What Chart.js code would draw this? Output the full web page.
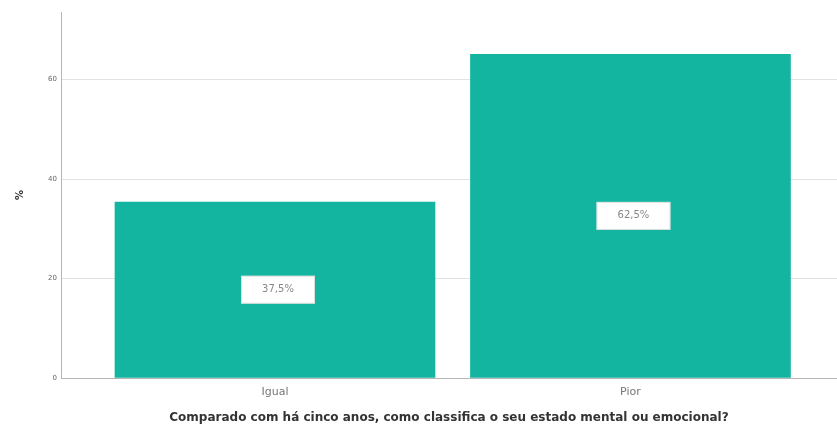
<!DOCTYPE html>
<html>
<head>
<meta charset="utf-8">
<script src="https://cdn.jsdelivr.net/npm/chart.js@4/dist/chart.umd.min.js"></script>
<style>
html,body{margin:0;padding:0;background:#fff;}
#wrap{width:837px;height:430px;}
</style>
</head>
<body>
<div id="wrap"><canvas id="c" width="837" height="430"></canvas></div>
<script>
const categories = ["Igual", "Pior"];
const values = [35.4, 65.1];
const valueLabels = ["37,5%", "62,5%"];
const yTicks = [0, 20, 40, 60];
const xTitle = "Comparado com há cinco anos, como classifica o seu estado mental ou emocional?";
const yTitle = "%";

const FONT = "'DejaVu Sans', Verdana, sans-serif";

const labelBoxes = {
  id: 'labelBoxes',
  afterDatasetsDraw(chart) {
    const ctx = chart.ctx;
    const meta = chart.getDatasetMeta(0);
    meta.data.forEach((bar, i) => {
      const cx = bar.x + 3;
      const cy = (bar.y + bar.base) / 2;
      const w = 74, h = 28;
      ctx.save();
      ctx.fillStyle = '#ffffff';
      ctx.fillRect(cx - w / 2, cy - h / 2, w, h);
      ctx.strokeStyle = 'rgba(200,200,200,0.6)';
      ctx.lineWidth = 1;
      ctx.strokeRect(cx - w / 2 + 0.5, cy - h / 2 + 0.5, w - 1, h - 1);
      ctx.fillStyle = '#888888';
      ctx.font = '10px ' + FONT;
      ctx.textAlign = 'center';
      ctx.textBaseline = 'middle';
      ctx.fillText(valueLabels[i], cx, cy);
      ctx.restore();
    });
  }
};

new Chart(document.getElementById('c'), {
  type: 'bar',
  data: {
    datasets: [{
      data: categories.map((c, i) => ({ x: i + 1, y: values[i] })),
      backgroundColor: '#14b5a0',
      borderWidth: 0,
      barThickness: 320
    }]
  },
  options: {
    responsive: false,
    animation: false,
    layout: { padding: { top: 12, right: 0, left: 0, bottom: 0 } },
    plugins: { legend: { display: false }, tooltip: { enabled: false } },
    scales: {
      x: {
        type: 'linear',
        offset: false,
        min: 0.398,
        max: 2.581,
        grid: { display: false, drawTicks: false, offset: false },
        border: { display: true, color: '#b5b5b5', width: 1 },
        afterBuildTicks(scale) { scale.ticks = categories.map((c, i) => ({ value: i + 1 })); },
        afterFit(scale) { scale.height = 52; },
        ticks: {
          autoSkip: false,
          maxRotation: 0,
          padding: 8,
          color: '#777777',
          font: { family: FONT, size: 11 },
          callback: (v) => categories[Math.round(v) - 1]
        },
        title: {
          display: true,
          text: xTitle,
          color: '#333333',
          font: { family: FONT, size: 12, weight: 'bold' },
          padding: { top: 0, bottom: 5 }
        }
      },
      y: {
        min: 0,
        max: 73.6,
        grid: { color: '#e2e2e2', drawTicks: false, lineWidth: 1 },
        border: { display: true, color: '#b5b5b5', width: 1 },
        afterBuildTicks(scale) { scale.ticks = yTicks.map(v => ({ value: v })); },
        afterFit(scale) { scale.width = 61; },
        ticks: {
          padding: 4,
          color: '#666666',
          font: { family: FONT, size: 7 }
        },
        title: {
          display: true,
          text: yTitle,
          color: '#333333',
          font: { family: FONT, size: 10, weight: 'bold' },
          padding: { top: 14, bottom: 0 }
        }
      }
    }
  },
  plugins: [labelBoxes]
});
</script>
</body>
</html>
